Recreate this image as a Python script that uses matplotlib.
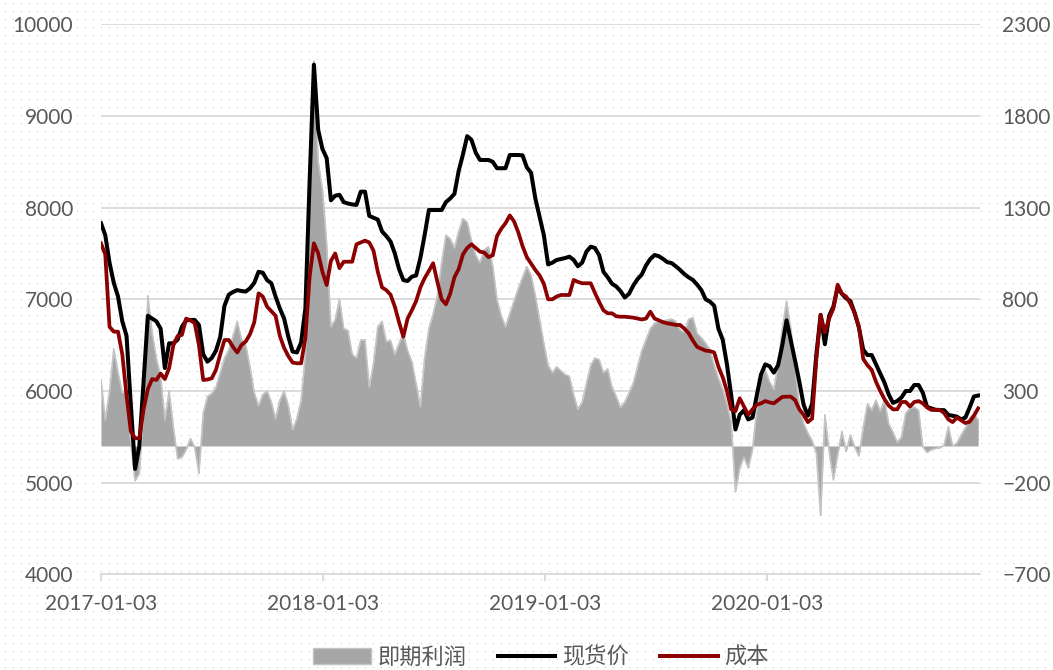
import numpy as np
import pandas as pd
import matplotlib
matplotlib.use('Agg')
import matplotlib.pyplot as plt
from matplotlib.patches import Patch
from matplotlib.lines import Line2D

plt.rcParams['font.family'] = ['Lato', 'Noto Sans CJK SC', 'DejaVu Sans']

# weekly data, starting 2017-01-03
start = '2017-01-03'

profit = [
    360, 142, 300, 530, 400, 290, 300, 20, -190, -150,
    200, 820, 620, 480, 380, 142, 300, 100, -70, -60,
    -20, 40, -5, -150, 178, 270, 287, 320, 400, 480,
    524, 600, 680, 580, 550, 430, 290, 220, 280, 300,
    240, 150, 250, 300, 220, 90, 150, 250, 500, 1300,
    2100, 1550, 1400, 1100, 650, 690, 800, 640, 630, 500,
    480, 578, 578, 320, 450, 650, 680, 570, 575, 500,
    560, 614, 520, 460, 340, 214, 480, 640, 720, 820,
    1000, 1150, 1130, 1080, 1170, 1240, 1220, 1120, 1040, 1000,
    1070, 1087, 980, 800, 710, 651, 723, 790, 860, 920,
    978, 930, 820, 690, 560, 440, 400, 432, 410, 390,
    380, 280, 200, 240, 340, 440, 480, 470, 400, 420,
    320, 270, 210, 240, 290, 342, 430, 520, 580, 640,
    670, 678, 682, 687, 692, 680, 633, 620, 690, 700,
    614, 590, 560, 524, 440, 370, 310, 230, 130, -250,
    -120, -60, -120, -20, 200, 370, 415, 350, 310, 440,
    640, 790, 640, 432, 220, 124, 70, 30, -40, -380,
    170, -30, -185, -50, 80, -30, 60, -5, -55, 100,
    230, 196, 250, 190, 250, 120, 75, 20, 50, 180,
    205, 212, 196, -5, -35, -20, -13, -10, 5, 105,
    0, 15, 60, 100, 150, 175, 142,
]

spot = [
    7830, 7700, 7400, 7180, 7030, 6760, 6600, 5850, 5150, 5400,
    6100, 6820, 6790, 6760, 6680, 6250, 6520, 6520, 6560, 6700,
    6770, 6775, 6775, 6720, 6400, 6320, 6360, 6440, 6590, 6930,
    7050, 7080, 7100, 7090, 7085, 7120, 7180, 7300, 7290, 7210,
    7175, 7030, 6900, 6790, 6590, 6430, 6420, 6530, 6900, 8300,
    9560, 8850, 8640, 8540, 8080, 8130, 8140, 8060, 8045, 8035,
    8030, 8174, 8174, 7910, 7890, 7870, 7740, 7690, 7630, 7500,
    7330, 7210, 7200, 7247, 7260, 7450, 7700, 7974, 7974, 7974,
    7974, 8060, 8100, 8150, 8400, 8580, 8780, 8740, 8600, 8520,
    8520, 8520, 8500, 8430, 8430, 8430, 8574, 8574, 8574, 8570,
    8440, 8380, 8100, 7900, 7700, 7380, 7400, 7429, 7440, 7450,
    7465, 7430, 7360, 7400, 7520, 7574, 7560, 7480, 7300, 7240,
    7170, 7140, 7090, 7020, 7060, 7150, 7220, 7270, 7370, 7440,
    7483, 7470, 7440, 7405, 7395, 7360, 7320, 7275, 7240, 7211,
    7160, 7100, 7000, 6975, 6930, 6680, 6560, 6290, 5950, 5580,
    5740, 5790, 5690, 5710, 5950, 6180, 6290, 6270, 6200, 6280,
    6500, 6770, 6550, 6330, 6100, 5850, 5730, 5860, 6400, 6830,
    6510, 6820, 6920, 7130, 7060, 7010, 6980, 6850, 6690, 6450,
    6392, 6392, 6290, 6190, 6090, 5960, 5870, 5890, 5930, 6000,
    6000, 6065, 6065, 5980, 5825, 5810, 5795, 5793, 5790, 5738,
    5730, 5720, 5690, 5710, 5820, 5940, 5950,
]

cost = [
    7610, 7490, 6700, 6647, 6647, 6400, 5950, 5560, 5484, 5484,
    5800, 6020, 6130, 6120, 6190, 6130, 6250, 6500, 6600, 6611,
    6790, 6770, 6740, 6500, 6120, 6125, 6138, 6230, 6400, 6556,
    6556, 6480, 6420, 6502, 6540, 6620, 6750, 7065, 7030, 6920,
    6870, 6820, 6600, 6470, 6380, 6310, 6302, 6302, 6580, 7250,
    7611, 7502, 7300, 7156, 7420, 7500, 7340, 7410, 7410, 7410,
    7600, 7620, 7640, 7620, 7530, 7300, 7130, 7100, 7050, 6920,
    6750, 6592, 6790, 6880, 6980, 7130, 7230, 7310, 7393, 7190,
    7000, 6945, 7060, 7240, 7330, 7490, 7560, 7600, 7560, 7520,
    7510, 7460, 7480, 7690, 7770, 7830, 7915, 7850, 7730, 7580,
    7460, 7390, 7320, 7260, 7170, 7000, 7000, 7030, 7047, 7047,
    7047, 7211, 7190, 7175, 7175, 7175, 7070, 6970, 6880, 6847,
    6847, 6815, 6810, 6810, 6805, 6800, 6790, 6780, 6790, 6865,
    6790, 6770, 6750, 6738, 6730, 6720, 6720, 6680, 6630, 6550,
    6480, 6460, 6440, 6435, 6420, 6265, 6150, 6000, 5800, 5780,
    5920, 5830, 5740, 5800, 5850, 5865, 5890, 5875, 5865, 5900,
    5935, 5938, 5938, 5900, 5800, 5740, 5660, 5700, 6350, 6830,
    6640, 6790, 6900, 7160, 7060, 7030, 6950, 6850, 6700, 6350,
    6280, 6230, 6100, 6000, 5910, 5840, 5800, 5800, 5880, 5880,
    5830, 5880, 5890, 5865, 5820, 5793, 5793, 5793, 5760, 5690,
    5660, 5710, 5680, 5650, 5665, 5730, 5810,
]

x_labels = ['2017-01-03', '2018-01-03', '2019-01-03', '2020-01-03']
left_ticks = [4000, 5000, 6000, 7000, 8000, 9000, 10000]
right_ticks = [-700, -200, 300, 800, 1300, 1800, 2300]
legend_labels = ['即期利润', '现货价', '成本']

dates = pd.date_range(start, periods=len(spot), freq='7D')

W, H = 1053, 670
fig = plt.figure(figsize=(W / 100, H / 100), dpi=100)
fig.patch.set_facecolor('white')

# dotted pattern background
bg = np.ones((H, W, 3))
bg[3::8, 5::8] = 0.76
fig.figimage(bg, zorder=-1)

ax = fig.add_axes([101 / W, 1 - 574.3 / H, 879 / W, 550 / H])
ax2 = ax.twinx()
ax.set_zorder(2)
ax2.set_zorder(1)
ax.patch.set_visible(False)
ax2.patch.set_visible(False)

grey_txt = '#595959'
grid_c = '#d9d9d9'

# profit area on the right axis
ax2.fill_between(dates, 0, profit, color='#a6a6a6', lw=0, zorder=2)
ax2.plot(dates, profit, color='#c4c4c4', lw=1.2, zorder=3)
ax2.set_ylim(-700, 2300)
ax2.set_yticks(right_ticks)
ax2.yaxis.grid(True, color=grid_c, lw=1.3)
ax2.set_axisbelow(True)

# price lines on the left axis
ax.plot(dates, spot, color='black', lw=2.9, zorder=4)
ax.plot(dates, cost, color='#8b0000', lw=2.7, zorder=5)
ax.set_ylim(4000, 10000)
ax.set_yticks(left_ticks)
ax.set_xlim(pd.Timestamp(start), pd.Timestamp(start) + pd.Timedelta(days=1445))
ax.set_xticks(pd.to_datetime(x_labels))
ax.set_xticklabels(x_labels)

for a in (ax, ax2):
    for s in a.spines.values():
        s.set_visible(False)
ax.spines['bottom'].set_visible(True)
ax.spines['bottom'].set_color(grid_c)
ax.spines['bottom'].set_linewidth(1.3)

ax.tick_params(axis='y', length=0, pad=20, labelsize=15, labelcolor=grey_txt)
ax2.tick_params(axis='y', length=0, pad=16, labelsize=15, labelcolor=grey_txt)
ax.tick_params(axis='x', length=5, width=1.3, color=grid_c, pad=9,
               labelsize=15, labelcolor=grey_txt)

handles = [
    Patch(facecolor='#a6a6a6', edgecolor='#c4c4c4', lw=1),
    Line2D([], [], color='black', lw=2.9),
    Line2D([], [], color='#8b0000', lw=2.9),
]
fig.legend(handles, legend_labels, loc='center', bbox_to_anchor=(541 / W, 1 - 657 / H),
           ncol=3, frameon=False, handlelength=2.6, handleheight=0.7,
           handletextpad=0.3, columnspacing=1.4,
           prop={'family': ['Noto Sans CJK SC', 'DejaVu Sans'], 'size': 16},
           labelcolor=grey_txt)

fig.savefig('out.png', dpi=100)
